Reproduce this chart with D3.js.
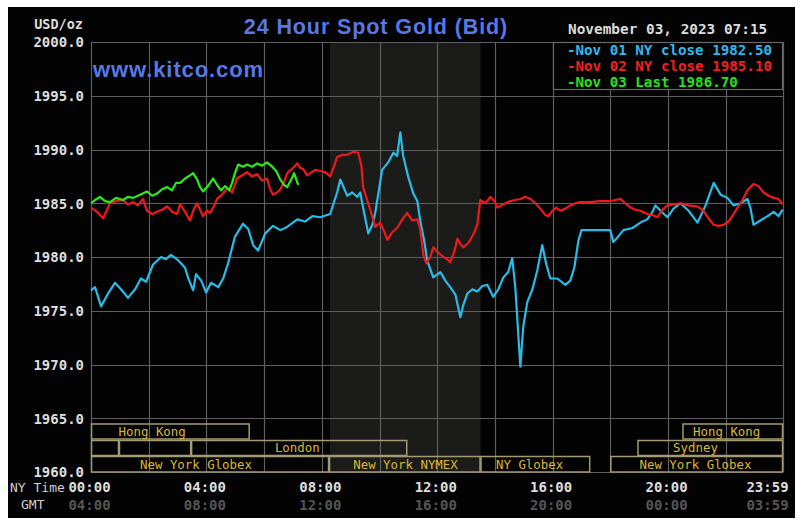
<!DOCTYPE html>
<html>
<head>
<meta charset="utf-8">
<script src="https://cdn.jsdelivr.net/npm/d3@7/dist/d3.min.js"></script>
<style>
  html, body { margin: 0; padding: 0; background: #ffffff; }
  svg { display: block; }
</style>
</head>
<body>
<script>
// ---------------- DATA ----------------
const yTicks = [1960, 1965, 1970, 1975, 1980, 1985, 1990, 1995, 2000];
const xTickHours = [0, 4, 8, 12, 16, 20, 23.983];
const nyTimeLabels = ["00:00", "04:00", "08:00", "12:00", "16:00", "20:00", "23:59"];
const gmtLabels = ["04:00", "08:00", "12:00", "16:00", "20:00", "00:00", "03:59"];

const seriesNames = ["Nov 01 NY close 1982.50", "Nov 02 NY close 1985.10", "Nov 03 Last 1986.70"];

const nov01Hours = [0,0.14,0.35,0.59,0.83,1.04,1.28,1.53,1.73,1.91,2.15,2.43,2.6,2.77,3.02,3.26,3.36,3.54,3.64,3.82,3.99,4.16,4.41,4.58,4.75,4.99,5.27,5.45,5.62,5.79,6.04,6.31,6.56,6.8,7.15,7.42,7.67,7.94,8.29,8.53,8.64,8.88,9.05,9.23,9.33,9.43,9.61,9.75,9.85,10.09,10.3,10.48,10.61,10.72,10.82,10.99,11.17,11.31,11.41,11.55,11.65,11.86,12.11,12.28,12.45,12.63,12.8,12.9,13.04,13.22,13.39,13.56,13.74,13.94,14.12,14.29,14.46,14.6,14.71,14.78,14.88,14.98,15.12,15.3,15.47,15.64,15.78,15.92,16.16,16.44,16.61,16.75,16.89,17.0,17.48,18.0,18.1,18.24,18.45,18.77,19.04,19.28,19.46,19.56,19.74,19.98,20.19,20.43,20.71,21.02,21.3,21.58,21.82,22.06,22.27,22.51,22.75,22.86,22.96,23.2,23.45,23.66,23.83,23.97];
const nov01Values = [1976.9,1977.2,1975.4,1976.6,1977.6,1977.0,1976.2,1977.0,1978.0,1977.7,1979.3,1980.0,1979.8,1980.2,1979.7,1979.0,1978.1,1976.9,1978.4,1977.8,1976.7,1977.6,1977.2,1978.0,1979.4,1981.9,1983.1,1982.6,1981.1,1980.6,1982.2,1982.9,1982.5,1982.8,1983.5,1983.3,1983.8,1983.7,1984.0,1986.0,1987.2,1985.7,1986.0,1985.6,1986.0,1984.6,1982.2,1983.0,1984.1,1988.1,1988.8,1989.7,1989.4,1991.6,1989.4,1987.5,1985.9,1985.2,1983.4,1981.5,1979.7,1978.1,1978.6,1977.8,1977.2,1976.5,1974.4,1975.5,1976.6,1977.0,1976.8,1977.3,1977.4,1976.3,1977.0,1978.1,1978.6,1979.9,1977.0,1974.0,1969.8,1973.5,1975.8,1977.0,1978.8,1981.1,1979.3,1978.0,1978.0,1977.4,1977.8,1979.0,1981.5,1982.5,1982.5,1982.5,1981.4,1981.8,1982.5,1982.7,1983.2,1983.5,1984.2,1984.8,1984.3,1983.7,1984.5,1985.0,1984.3,1983.2,1984.8,1986.9,1985.8,1985.5,1984.8,1985.0,1985.4,1984.5,1983.0,1983.4,1983.8,1984.2,1983.8,1984.4];

const nov02Hours = [0,0.21,0.42,0.66,0.87,1.11,1.28,1.46,1.63,1.8,1.94,2.12,2.29,2.46,2.64,2.81,2.98,3.09,3.26,3.43,3.57,3.68,3.88,4.02,4.13,4.27,4.37,4.54,4.72,4.89,5.06,5.24,5.41,5.58,5.76,5.93,6.1,6.21,6.31,6.45,6.56,6.69,6.8,6.97,7.15,7.25,7.35,7.49,7.6,7.77,7.94,8.12,8.29,8.43,8.53,8.71,8.88,9.09,9.26,9.37,9.43,9.57,9.68,9.85,10.02,10.16,10.27,10.44,10.61,10.79,10.96,11.13,11.31,11.41,11.52,11.62,11.76,11.86,12.04,12.21,12.35,12.45,12.59,12.7,12.8,12.9,13.08,13.25,13.39,13.49,13.67,13.84,13.98,14.08,14.29,14.53,14.71,14.88,15.05,15.23,15.4,15.57,15.75,15.85,15.99,16.13,16.27,16.44,16.61,16.79,16.96,17.3,17.65,18.0,18.17,18.35,18.52,18.7,18.87,19.04,19.28,19.46,19.63,19.81,19.98,20.19,20.43,20.71,21.02,21.23,21.4,21.58,21.75,21.93,22.1,22.27,22.41,22.58,22.75,22.96,23.13,23.31,23.48,23.66,23.83,23.97];
const nov02Values = [1984.6,1984.2,1983.6,1985.0,1985.2,1985.3,1984.9,1985.1,1984.8,1985.4,1984.3,1984.0,1984.2,1984.4,1984.7,1984.2,1984.0,1984.9,1984.2,1983.4,1984.5,1985.0,1983.8,1984.3,1984.1,1984.8,1985.4,1985.8,1986.4,1986.0,1987.3,1987.6,1987.9,1987.5,1987.7,1987.1,1987.3,1986.3,1985.8,1986.0,1986.3,1987.0,1987.8,1988.2,1988.7,1988.3,1988.2,1987.6,1987.8,1988.1,1988.0,1987.9,1987.5,1988.5,1989.3,1989.5,1989.5,1989.8,1989.7,1988.5,1986.5,1985.3,1984.4,1982.8,1983.2,1982.4,1981.6,1982.3,1982.7,1983.5,1984.1,1983.4,1983.5,1982.6,1980.2,1979.4,1980.0,1980.9,1980.4,1980.0,1979.8,1979.5,1980.5,1981.7,1981.2,1980.9,1981.3,1982.1,1983.0,1985.3,1985.0,1985.6,1985.2,1984.6,1984.9,1985.2,1985.3,1985.4,1985.6,1985.4,1985.0,1984.5,1983.9,1983.8,1984.3,1984.6,1984.3,1984.5,1984.8,1985.0,1985.1,1985.1,1985.2,1985.2,1985.3,1985.4,1985.0,1984.6,1984.4,1984.3,1984.0,1983.9,1983.7,1984.4,1984.8,1984.9,1985.0,1984.8,1984.7,1984.3,1983.6,1983.0,1982.9,1983.0,1983.3,1984.0,1984.6,1985.3,1986.2,1986.8,1986.6,1986.0,1985.7,1985.5,1985.4,1984.9];

const nov03Hours = [0,0.14,0.31,0.49,0.66,0.87,1.11,1.28,1.46,1.7,1.94,2.12,2.29,2.46,2.64,2.81,2.95,3.09,3.26,3.43,3.54,3.68,3.78,3.88,4.02,4.13,4.23,4.37,4.51,4.65,4.79,4.89,4.99,5.1,5.27,5.41,5.58,5.76,5.93,6.1,6.28,6.42,6.56,6.69,6.8,6.94,7.04,7.18];
const nov03Values = [1985.0,1985.3,1985.6,1985.2,1985.1,1985.5,1985.3,1985.6,1985.5,1985.8,1986.1,1985.7,1985.9,1986.3,1986.5,1986.2,1986.9,1986.9,1987.3,1987.6,1987.8,1987.2,1986.5,1986.1,1986.5,1986.9,1987.3,1986.7,1986.2,1986.6,1986.2,1986.9,1987.8,1988.6,1988.4,1988.6,1988.4,1988.7,1988.5,1988.8,1988.4,1988.0,1987.2,1986.7,1986.5,1987.2,1987.8,1986.7];

const sessionNames  = ["Hong Kong", "Hong Kong", "", "", "London", "Sydney", "New York Globex", "New York NYMEX", "NY Globex", "New York Globex"];
const sessionRows   = [0, 0, 1, 1, 1, 1, 2, 2, 2, 2];
const sessionStarts = [0, 20.5, 0, 0.97, 3.47, 18.94, 0, 8.25, 13.5, 18.0];
const sessionEnds   = [5.5, 23.983, 0.97, 3.47, 10.96, 23.983, 8.25, 13.5, 17.3, 23.983];
const sessionLabelAt = [2.12, 22.03, 0, 0, 7.15, 20.95, 3.64, 10.9, 15.2, 20.95];

const nymexShade = [8.28, 13.5];

// ---------------- LAYOUT ----------------
const W = 803, H = 526;
const plot = { left: 91, right: 783, top: 42, bottom: 472 };
const mono = "'DejaVu Sans Mono', 'Liberation Mono', monospace";

const svg = d3.select("body").append("svg").attr("width", W).attr("height", H);

svg.append("rect").attr("x", 8).attr("y", 7).attr("width", 787).attr("height", 511).attr("fill", "#030303");

const x = d3.scaleLinear().domain([0, 23.983]).range([plot.left, plot.right]);
const y = d3.scaleLinear().domain([1960, 2000]).range([plot.bottom, plot.top]);

// shaded NYMEX region
svg.append("rect")
  .attr("x", x(nymexShade[0])).attr("y", plot.top)
  .attr("width", x(nymexShade[1]) - x(nymexShade[0]))
  .attr("height", plot.bottom - plot.top)
  .attr("fill", "#1b1c19");

// grid
const grid = svg.append("g").attr("stroke", "#5e5e5e").attr("stroke-width", 1.2);
grid.selectAll("line.h").data(yTicks).join("line")
  .attr("x1", plot.left).attr("x2", plot.right)
  .attr("y1", d => Math.round(y(d)) + 0.5).attr("y2", d => Math.round(y(d)) + 0.5);
grid.selectAll("line.v").data(d3.range(0, 25, 2)).join("line")
  .attr("x1", d => Math.round(x(Math.min(d, 23.983))) + 0.5).attr("x2", d => Math.round(x(Math.min(d, 23.983))) + 0.5)
  .attr("y1", plot.top).attr("y2", plot.bottom);

// y axis
const yAxis = d3.axisLeft(y).tickValues(yTicks).tickFormat(d3.format(".1f")).tickSize(0).tickPadding(7);
const gy = svg.append("g").attr("transform", `translate(${plot.left},0)`).call(yAxis);
gy.select(".domain").remove();
gy.selectAll("text")
  .attr("fill", "#dedede").attr("font-family", mono).attr("font-weight", "bold")
  .attr("font-size", 14).attr("dy", "0.35em");

svg.append("text").attr("x", 83).attr("y", 29).attr("text-anchor", "end")
  .attr("fill", "#dedede").attr("font-family", mono).attr("font-weight", "bold").attr("font-size", 13.5)
  .text("USD/oz");

// x axis (NY time)
const xAxisNY = d3.axisBottom(x).tickValues(xTickHours).tickFormat((d, i) => nyTimeLabels[i]).tickSize(0).tickPadding(10);
const gx = svg.append("g").attr("transform", `translate(0,${plot.bottom})`).call(xAxisNY);
gx.select(".domain").remove();
gx.selectAll("text")
  .attr("fill", "#dedede").attr("font-family", mono).attr("font-weight", "bold").attr("font-size", 14)
  .attr("dx", (d, i) => i === 0 ? -2 : (i === xTickHours.length - 1 ? -16 : -2));

const xAxisGMT = d3.axisBottom(x).tickValues(xTickHours).tickFormat((d, i) => gmtLabels[i]).tickSize(0).tickPadding(28);
const gx2 = svg.append("g").attr("transform", `translate(0,${plot.bottom})`).call(xAxisGMT);
gx2.select(".domain").remove();
gx2.selectAll("text")
  .attr("fill", "#555555").attr("font-family", mono).attr("font-weight", "bold").attr("font-size", 14)
  .attr("dx", (d, i) => i === 0 ? -2 : (i === xTickHours.length - 1 ? -16 : -2));

svg.append("text").attr("x", 10).attr("y", 492)
  .attr("fill", "#d0d0d0").attr("font-family", mono).attr("font-size", 13).text("NY Time");
svg.append("text").attr("x", 21).attr("y", 509)
  .attr("fill", "#d0d0d0").attr("font-family", mono).attr("font-size", 13).text("GMT");

// session boxes
const rowTop = [424, 440.5, 456.5];
const rowH = [15, 15, 15.5];
const sess = svg.append("g");
sessionNames.forEach((name, i) => {
  const r = sessionRows[i];
  sess.append("rect")
    .attr("x", x(sessionStarts[i]) + 0.5).attr("y", rowTop[r])
    .attr("width", x(sessionEnds[i]) - x(sessionStarts[i]) - 1)
    .attr("height", rowH[r])
    .attr("fill", "none").attr("stroke", "#a39a73").attr("stroke-width", 1.5);
  if (name) {
    sess.append("text")
      .attr("x", x(sessionLabelAt[i])).attr("y", rowTop[r] + rowH[r] / 2)
      .attr("dy", "0.36em").attr("text-anchor", "middle")
      .attr("fill", "#dcb935").attr("font-family", mono).attr("font-size", 12.4)
      .text(name);
  }
});

// lines
const seriesList = [
  { hours: nov01Hours, values: nov01Values, color: "#27bde8" },
  { hours: nov02Hours, values: nov02Values, color: "#f01818" },
  { hours: nov03Hours, values: nov03Values, color: "#2de81e" }
];
const line = d3.line().x(d => x(d[0])).y(d => y(d[1])).curve(d3.curveLinear);
seriesList.forEach(s => {
  svg.append("path")
    .datum(s.hours.map((h, i) => [h, s.values[i]]))
    .attr("fill", "none").attr("stroke", s.color).attr("stroke-width", 2.2)
    .attr("stroke-linejoin", "round")
    .attr("d", line);
});

// legend
svg.append("rect").attr("x", 553.5).attr("y", 42.5).attr("width", 229).attr("height", 47)
  .attr("fill", "#030303").attr("stroke", "#6a6a6a").attr("stroke-width", 1.2);
const legColors = ["#2fb8ee", "#f02020", "#28e01e"];
seriesNames.forEach((n, i) => {
  svg.append("text").attr("x", 567).attr("y", 50 + i * 15.7).attr("dy", "0.36em")
    .attr("fill", legColors[i]).attr("font-family", mono).attr("font-weight", "bold").attr("font-size", 14.2)
    .text("-" + n);
});
svg.append("text").attr("x", 568).attr("y", 34)
  .attr("fill", "#dcdcdc").attr("font-family", mono).attr("font-weight", "bold").attr("font-size", 14.4)
  .text("November 03, 2023 07:15");

// titles
svg.append("text").attr("x", 376).attr("y", 34).attr("text-anchor", "middle")
  .attr("fill", "#5878e6").attr("font-family", "'Liberation Sans', Arial, sans-serif").attr("font-weight", "bold")
  .attr("font-size", 21.5).attr("letter-spacing", 0.9).text("24 Hour Spot Gold (Bid)");
svg.append("text").attr("x", 93).attr("y", 77)
  .attr("fill", "#5878e6").attr("font-family", "'Liberation Sans', Arial, sans-serif").attr("font-weight", "bold")
  .attr("font-size", 22).attr("letter-spacing", 0.9).text("www.kitco.com");
</script>
</body>
</html>
